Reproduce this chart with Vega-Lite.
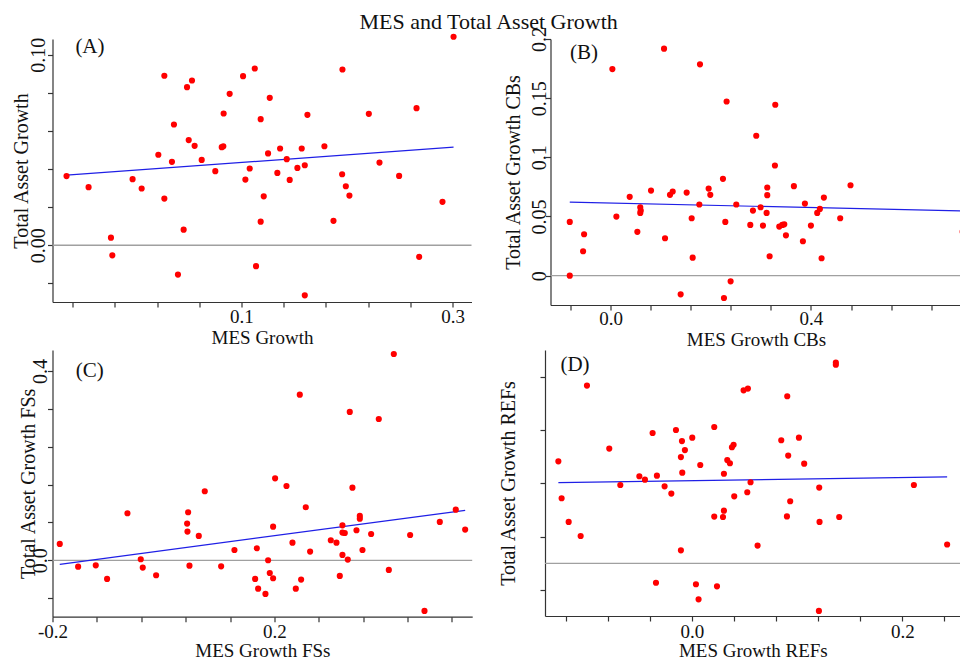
{
  "$schema": "https://vega.github.io/schema/vega-lite/v6.json",
  "padding": {"left": 10.5, "top": 11, "right": 0, "bottom": 0},
  "title": {"text": "MES and Total Asset Growth", "anchor": "middle", "baseline": "alphabetic", "offset": -24.5, "fontSize": 22, "font": "Liberation Serif", "fontWeight": "normal", "color": "#111111"},
  "datasets": {
    "A": [{"x":-0.0658,"y":0.0363},{"x":-0.0449,"y":0.0305},{"x":-0.0237,"y":0.0040},{"x":-0.0224,"y":-0.0053},{"x":-0.0032,"y":0.0347},{"x":0.0054,"y":0.0298},{"x":0.0212,"y":0.0475},{"x":0.0269,"y":0.0890},{"x":0.0269,"y":0.0245},{"x":0.0341,"y":0.0438},{"x":0.0360,"y":0.0634},{"x":0.0398,"y":-0.0154},{"x":0.0452,"y":0.0082},{"x":0.0484,"y":0.0830},{"x":0.0500,"y":0.0552},{"x":0.0531,"y":0.0865},{"x":0.0556,"y":0.0522},{"x":0.0623,"y":0.0448},{"x":0.0752,"y":0.0389},{"x":0.0813,"y":0.0515},{"x":0.0828,"y":0.0520},{"x":0.0831,"y":0.0692},{"x":0.0888,"y":0.0795},{"x":0.1015,"y":0.0888},{"x":0.1037,"y":0.0345},{"x":0.1078,"y":0.0403},{"x":0.1126,"y":0.0928},{"x":0.1138,"y":-0.0110},{"x":0.1182,"y":0.0662},{"x":0.1182,"y":0.0124},{"x":0.1211,"y":0.0257},{"x":0.1252,"y":0.0482},{"x":0.1268,"y":0.0774},{"x":0.1340,"y":0.0380},{"x":0.1366,"y":0.0508},{"x":0.1429,"y":0.0452},{"x":0.1457,"y":0.0343},{"x":0.1530,"y":0.0406},{"x":0.1571,"y":0.0508},{"x":0.1600,"y":0.0420},{"x":0.1600,"y":-0.0263},{"x":0.1625,"y":0.0685},{"x":0.1786,"y":0.0520},{"x":0.1872,"y":0.0128},{"x":0.1954,"y":0.0373},{"x":0.1957,"y":0.0923},{"x":0.1989,"y":0.0310},{"x":0.2023,"y":0.0261},{"x":0.2207,"y":0.0690},{"x":0.2308,"y":0.0434},{"x":0.2494,"y":0.0364},{"x":0.2659,"y":0.0720},{"x":0.2684,"y":-0.0061},{"x":0.2905,"y":0.0228},{"x":0.3010,"y":0.1095}],
    "B": [{"x":-0.0818,"y":0.0454},{"x":-0.0818,"y":0.0},{"x":-0.0552,"y":0.0206},{"x":-0.0532,"y":0.0350},{"x":0.0033,"y":0.1746},{"x":0.0113,"y":0.0499},{"x":0.0379,"y":0.0666},{"x":0.0532,"y":0.0370},{"x":0.059,"y":0.0578},{"x":0.060,"y":0.0550},{"x":0.059,"y":0.0530},{"x":0.0805,"y":0.0719},{"x":0.1065,"y":0.1918},{"x":0.1085,"y":0.0316},{"x":0.1184,"y":0.0683},{"x":0.1238,"y":0.0711},{"x":0.1397,"y":-0.0158},{"x":0.1517,"y":0.0702},{"x":0.1617,"y":0.0485},{"x":0.1637,"y":0.0152},{"x":0.1770,"y":0.0601},{"x":0.1783,"y":0.1786},{"x":0.1956,"y":0.0736},{"x":0.1989,"y":0.0683},{"x":0.2242,"y":0.0818},{"x":0.2262,"y":-0.0189},{"x":0.2289,"y":0.0454},{"x":0.2315,"y":0.1472},{"x":0.2395,"y":-0.0048},{"x":0.2508,"y":0.0601},{"x":0.2788,"y":0.0429},{"x":0.2841,"y":0.0550},{"x":0.2907,"y":0.1182},{"x":0.2994,"y":0.0578},{"x":0.3041,"y":0.0423},{"x":0.3114,"y":0.0530},{"x":0.3127,"y":0.0745},{"x":0.3127,"y":0.0680},{"x":0.3174,"y":0.0164},{"x":0.3280,"y":0.0931},{"x":0.3287,"y":0.1444},{"x":0.3367,"y":0.0415},{"x":0.3427,"y":0.0429},{"x":0.3467,"y":0.0434},{"x":0.3500,"y":0.0341},{"x":0.3659,"y":0.0756},{"x":0.3839,"y":0.0291},{"x":0.3879,"y":0.0609},{"x":0.3999,"y":0.0423},{"x":0.4125,"y":0.0530},{"x":0.4178,"y":0.0564},{"x":0.4212,"y":0.0147},{"x":0.4258,"y":0.0660},{"x":0.4584,"y":0.0485},{"x":0.4790,"y":0.0764},{"x":0.703,"y":0.0372}],
    "C": [{"x":-0.1869,"y":0.0345},{"x":-0.1538,"y":-0.0134},{"x":-0.1220,"y":-0.0106},{"x":-0.1016,"y":-0.0394},{"x":-0.0649,"y":0.0993},{"x":-0.0409,"y":0.0021},{"x":-0.0373,"y":-0.0155},{"x":-0.0132,"y":-0.0317},{"x":0.0427,"y":0.0775},{"x":0.0433,"y":0.0606},{"x":0.0445,"y":0.1014},{"x":0.0469,"y":-0.0113},{"x":0.0637,"y":0.0514},{"x":0.0745,"y":0.1458},{"x":0.1040,"y":-0.0127},{"x":0.1280,"y":0.0218},{"x":0.1653,"y":-0.0394},{"x":0.1683,"y":0.0254},{"x":0.1707,"y":-0.0599},{"x":0.1839,"y":-0.0711},{"x":0.1887,"y":0.0},{"x":0.1917,"y":-0.0268},{"x":0.1977,"y":0.0711},{"x":0.1977,"y":-0.0380},{"x":0.2013,"y":0.1732},{"x":0.2218,"y":0.1570},{"x":0.2326,"y":0.0373},{"x":0.2386,"y":-0.0599},{"x":0.2458,"y":0.3500},{"x":0.2482,"y":-0.0408},{"x":0.2566,"y":0.1120},{"x":0.2644,"y":0.0183},{"x":0.3017,"y":0.0423},{"x":0.3119,"y":0.0373},{"x":0.3179,"y":-0.0331},{"x":0.3227,"y":0.0739},{"x":0.3227,"y":0.0585},{"x":0.3227,"y":0.0113},{"x":0.3269,"y":0.0577},{"x":0.3323,"y":0.0014},{"x":0.3359,"y":0.3134},{"x":0.3407,"y":0.1535},{"x":0.3480,"y":0.0634},{"x":0.3540,"y":0.0937},{"x":0.3540,"y":0.0880},{"x":0.3588,"y":0.0218},{"x":0.3744,"y":0.0556},{"x":0.3882,"y":0.2986},{"x":0.4063,"y":-0.0204},{"x":0.4153,"y":0.4359},{"x":0.4447,"y":0.0535},{"x":0.4706,"y":-0.1070},{"x":0.4982,"y":0.0810},{"x":0.5270,"y":0.1070},{"x":0.5439,"y":0.0648}],
    "D": [{"x":-0.1270,"y":0.0478},{"x":-0.1239,"y":0.0305},{"x":-0.1172,"y":0.0194},{"x":-0.1058,"y":0.0128},{"x":-0.0998,"y":0.0833},{"x":-0.0786,"y":0.0538},{"x":-0.0681,"y":0.0367},{"x":-0.0500,"y":0.0408},{"x":-0.0447,"y":0.0392},{"x":-0.0374,"y":0.0611},{"x":-0.0342,"y":-0.0091},{"x":-0.0333,"y":0.0411},{"x":-0.0260,"y":0.0361},{"x":-0.0196,"y":0.0327},{"x":-0.0152,"y":0.0625},{"x":-0.0105,"y":0.0498},{"x":-0.0105,"y":0.0061},{"x":-0.0095,"y":0.0573},{"x":-0.0092,"y":0.0425},{"x":-0.0067,"y":0.0531},{"x":0.0003,"y":0.0589},{"x":0.0038,"y":-0.0098},{"x":0.0063,"y":-0.0169},{"x":0.0079,"y":0.0461},{"x":0.0212,"y":0.0639},{"x":0.0212,"y":0.0219},{"x":0.0238,"y":-0.0108},{"x":0.0295,"y":0.0217},{"x":0.0304,"y":0.0247},{"x":0.0304,"y":0.0420},{"x":0.0336,"y":0.0484},{"x":0.0361,"y":0.0469},{"x":0.0380,"y":0.0544},{"x":0.0396,"y":0.0556},{"x":0.0402,"y":0.0314},{"x":0.0491,"y":0.0811},{"x":0.0532,"y":0.0819},{"x":0.0526,"y":0.0333},{"x":0.0557,"y":0.0380},{"x":0.0624,"y":0.0083},{"x":0.0849,"y":0.0577},{"x":0.0903,"y":0.0220},{"x":0.0906,"y":0.0783},{"x":0.0915,"y":0.0505},{"x":0.0934,"y":0.0291},{"x":0.1017,"y":0.0589},{"x":0.1067,"y":0.0467},{"x":0.1210,"y":0.0355},{"x":0.1213,"y":0.0194},{"x":0.1207,"y":-0.0223},{"x":0.1368,"y":0.0941},{"x":0.1368,"y":0.0931},{"x":0.1400,"y":0.0217},{"x":0.2110,"y":0.0367},{"x":0.2426,"y":0.0088}],
    "fitA": [{"x":-0.0658,"y":0.0368},{"x":0.3010,"y":0.0515}],
    "fitB": [{"x":-0.0818,"y":0.0621},{"x":0.703,"y":0.0547}],
    "fitC": [{"x":-0.1869,"y":-0.0085},{"x":0.5439,"y":0.1056}],
    "fitD": [{"x":-0.1270,"y":0.0378},{"x":0.2426,"y":0.0405}]
  },
  "spacing": -20,
  "vconcat": [
    {
      "bounds": "flush",
      "spacing": 79,
      "hconcat": [
        {
          "width": 419, "height": 263,
          "layer": [
            {"data": {"values": [{"y": 0}]}, "mark": {"type": "rule", "color": "#a0a0a0", "strokeWidth": 1.3},
             "encoding": {"y": {"field": "y", "type": "quantitative", "scale": {"domain": [-0.0298, 0.1083], "nice": false, "zero": false}}}},
            {"data": {"name": "fitA"}, "mark": {"type": "line", "color": "#1f1fe6", "strokeWidth": 1.2},
             "encoding": {
               "x": {"field": "x", "type": "quantitative", "scale": {"domain": [-0.0791, 0.318], "nice": false, "zero": false}},
               "y": {"field": "y", "type": "quantitative", "scale": {"domain": [-0.0298, 0.1083], "nice": false, "zero": false}}}},
            {"data": {"name": "A"}, "mark": {"type": "circle", "color": "#ff0000", "opacity": 1, "size": 38},
             "encoding": {
               "x": {"field": "x", "type": "quantitative", "scale": {"domain": [-0.0791, 0.318], "nice": false, "zero": false},
                     "axis": {"orient": "bottom", "values": [-0.06,-0.04,-0.02,0,0.02,0.04,0.06,0.08,0.1,0.12,0.14,0.16,0.18,0.2,0.22,0.24,0.26,0.28,0.3],
                              "labelExpr": "abs(datum.value * 10 - round(datum.value * 10)) < 0.000001 ? format(datum.value, '.1f') : ''",
                              "tickSize": 5, "labelPadding": 15.6, "labelBaseline": "alphabetic", "labelAngle": 0, "title": "MES Growth", "titleY": 41.3, "titleBaseline": "alphabetic"}},
               "y": {"field": "y", "type": "quantitative", "scale": {"domain": [-0.0298, 0.1083], "nice": false, "zero": false},
                     "axis": {"orient": "left", "values": [-0.02,-0.01,0,0.01,0.02,0.03,0.04,0.05,0.06,0.07,0.08,0.09,0.1],
                              "labelExpr": "abs(datum.value * 20 - round(datum.value * 20)) < 0.000001 ? format(datum.value, '.2f') : ''",
                              "tickSize": 5, "labelPadding": 2.6, "labelAngle": 270, "labelAlign": "center", "labelBaseline": "alphabetic", "labelFontSize": 20, "title": "Total Asset Growth", "titleAngle": 270, "titleX": -25, "titleBaseline": "alphabetic", "titleFontSize": 20}}}},
            {"data": {"values": [{"x": -0.0436, "y": 0.1043, "t": "(A)"}]}, "mark": {"type": "text", "fontSize": 21, "align": "center", "baseline": "middle", "font": "Liberation Serif", "color": "#111111"},
             "encoding": {
               "x": {"field": "x", "type": "quantitative", "scale": {"domain": [-0.0791, 0.318], "nice": false, "zero": false}},
               "y": {"field": "y", "type": "quantitative", "scale": {"domain": [-0.0298, 0.1083], "nice": false, "zero": false}},
               "text": {"field": "t"}}}
          ]
        },
        {
          "width": 411, "height": 266,
          "layer": [
            {"data": {"values": [{"y": 0}]}, "mark": {"type": "rule", "color": "#a0a0a0", "strokeWidth": 1.3},
             "encoding": {"y": {"field": "y", "type": "quantitative", "scale": {"domain": [-0.0248, 0.2], "nice": false, "zero": false}}}},
            {"data": {"name": "fitB"}, "mark": {"type": "line", "color": "#1f1fe6", "strokeWidth": 1.2},
             "encoding": {
               "x": {"field": "x", "type": "quantitative", "scale": {"domain": [-0.1203, 0.7007], "nice": false, "zero": false}},
               "y": {"field": "y", "type": "quantitative", "scale": {"domain": [-0.0248, 0.2], "nice": false, "zero": false}}}},
            {"data": {"name": "B"}, "mark": {"type": "circle", "color": "#ff0000", "opacity": 1, "size": 38},
             "encoding": {
               "x": {"field": "x", "type": "quantitative", "scale": {"domain": [-0.1203, 0.7007], "nice": false, "zero": false},
                     "axis": {"orient": "bottom", "values": [-0.08,-0.04,0,0.04,0.08,0.12,0.16,0.2,0.24,0.28,0.32,0.36,0.4,0.44,0.48,0.52,0.56,0.6,0.64,0.68],
                              "labelExpr": "abs(datum.value * 5 - round(datum.value * 5)) < 0.000001 ? format(datum.value, '.1f') : ''",
                              "tickSize": 5, "labelPadding": 14, "labelBaseline": "alphabetic", "labelAngle": 0, "title": "MES Growth CBs", "titleY": 40.7, "titleBaseline": "alphabetic"}},
               "y": {"field": "y", "type": "quantitative", "scale": {"domain": [-0.0248, 0.2], "nice": false, "zero": false},
                     "axis": {"orient": "left", "values": [0,0.025,0.05,0.075,0.1,0.125,0.15,0.175,0.2],
                              "labelExpr": "abs(datum.value * 20 - round(datum.value * 20)) < 0.000001 ? '' + (round(datum.value * 20) / 20) : ''",
                              "tickSize": 5, "labelPadding": 0, "labelAngle": 270, "labelAlign": "center", "labelBaseline": "alphabetic", "labelFontSize": 20, "title": "Total Asset Growth CBs", "titleAngle": 270, "titleX": -30.7, "titleBaseline": "alphabetic", "titleFontSize": 20}}}},
            {"data": {"values": [{"x": -0.0535, "y": 0.188, "t": "(B)"}]}, "mark": {"type": "text", "fontSize": 21, "align": "center", "baseline": "middle", "font": "Liberation Serif", "color": "#111111"},
             "encoding": {
               "x": {"field": "x", "type": "quantitative", "scale": {"domain": [-0.1203, 0.7007], "nice": false, "zero": false}},
               "y": {"field": "y", "type": "quantitative", "scale": {"domain": [-0.0248, 0.2], "nice": false, "zero": false}},
               "text": {"field": "t"}}}
          ]
        }
      ]
    },
    {
      "bounds": "flush",
      "spacing": 72.5,
      "hconcat": [
        {
          "width": 419.7, "height": 266.7,
          "layer": [
            {"data": {"values": [{"y": 0}]}, "mark": {"type": "rule", "color": "#a0a0a0", "strokeWidth": 1.3},
             "encoding": {"y": {"field": "y", "type": "quantitative", "scale": {"domain": [-0.1192, 0.4443], "nice": false, "zero": false}}}},
            {"data": {"name": "fitC"}, "mark": {"type": "line", "color": "#1f1fe6", "strokeWidth": 1.2},
             "encoding": {
               "x": {"field": "x", "type": "quantitative", "scale": {"domain": [-0.2, 0.5566], "nice": false, "zero": false}},
               "y": {"field": "y", "type": "quantitative", "scale": {"domain": [-0.1192, 0.4443], "nice": false, "zero": false}}}},
            {"data": {"name": "C"}, "mark": {"type": "circle", "color": "#ff0000", "opacity": 1, "size": 38},
             "encoding": {
               "x": {"field": "x", "type": "quantitative", "scale": {"domain": [-0.2, 0.5566], "nice": false, "zero": false},
                     "axis": {"orient": "bottom", "values": [-0.2,-0.18,-0.16,-0.14,-0.12,-0.1,-0.08,-0.06,-0.04,-0.02,0,0.02,0.04,0.06,0.08,0.1,0.12,0.14,0.16,0.18,0.2,0.22,0.24,0.26,0.28,0.3,0.32,0.34,0.36,0.38,0.4,0.42,0.44,0.46,0.48,0.5,0.52,0.54],
                              "labelExpr": "abs(datum.value * 10 - round(datum.value * 10)) < 0.000001 ? (round(datum.value * 10) < 0 ? '-' + (abs(round(datum.value * 10)) / 10) : '' + (round(datum.value * 10) / 10)) : ''",
                              "tickSize": 5, "labelPadding": 15.3, "labelBaseline": "alphabetic", "labelAngle": 0, "title": "MES Growth FSs", "titleY": 39.3, "titleBaseline": "alphabetic"}},
               "y": {"field": "y", "type": "quantitative", "scale": {"domain": [-0.1192, 0.4443], "nice": false, "zero": false},
                     "axis": {"orient": "left", "values": [-0.08,-0.04,0,0.04,0.08,0.12,0.16,0.2,0.24,0.28,0.32,0.36,0.4],
                              "labelExpr": "abs(datum.value * 5 - round(datum.value * 5)) < 0.000001 ? format(datum.value, '.1f') : ''",
                              "tickSize": 5, "labelPadding": 0.7, "labelAngle": 270, "labelAlign": "center", "labelBaseline": "alphabetic", "labelFontSize": 20, "title": "Total Asset Growth FSs", "titleAngle": 270, "titleX": -18, "titleBaseline": "alphabetic", "titleFontSize": 20}}}},
            {"data": {"values": [{"x": -0.1329, "y": 0.4, "t": "(C)"}]}, "mark": {"type": "text", "fontSize": 21, "align": "center", "baseline": "middle", "font": "Liberation Serif", "color": "#111111"},
             "encoding": {
               "x": {"field": "x", "type": "quantitative", "scale": {"domain": [-0.2, 0.5566], "nice": false, "zero": false}},
               "y": {"field": "y", "type": "quantitative", "scale": {"domain": [-0.1192, 0.4443], "nice": false, "zero": false}},
               "text": {"field": "t"}}}
          ]
        },
        {
          "width": 415.6, "height": 266,
          "layer": [
            {"data": {"values": [{"y": 0}]}, "mark": {"type": "rule", "color": "#a0a0a0", "strokeWidth": 1.3},
             "encoding": {"y": {"field": "y", "type": "quantitative", "scale": {"domain": [-0.0247, 0.1], "nice": false, "zero": false}}}},
            {"data": {"name": "fitD"}, "mark": {"type": "line", "color": "#1f1fe6", "strokeWidth": 1.2},
             "encoding": {
               "x": {"field": "x", "type": "quantitative", "scale": {"domain": [-0.1397, 0.2554], "nice": false, "zero": false}},
               "y": {"field": "y", "type": "quantitative", "scale": {"domain": [-0.0247, 0.1], "nice": false, "zero": false}}}},
            {"data": {"name": "D"}, "mark": {"type": "circle", "color": "#ff0000", "opacity": 1, "size": 38},
             "encoding": {
               "x": {"field": "x", "type": "quantitative", "scale": {"domain": [-0.1397, 0.2554], "nice": false, "zero": false},
                     "axis": {"orient": "bottom", "values": [-0.12,-0.1,-0.08,-0.06,-0.04,-0.02,0,0.02,0.04,0.06,0.08,0.1,0.12,0.14,0.16,0.18,0.2,0.22,0.24],
                              "labelExpr": "abs(datum.value * 10 - round(datum.value * 10)) < 0.000001 ? (datum.value < 0 ? '-' + format(-datum.value, '.1f') : format(abs(datum.value), '.1f')) : ''",
                              "tickSize": 5, "labelPadding": 16, "labelBaseline": "alphabetic", "labelAngle": 0, "title": "MES Growth REFs", "titleY": 40, "titleBaseline": "alphabetic"}},
               "y": {"field": "y", "type": "quantitative", "scale": {"domain": [-0.0247, 0.1], "nice": false, "zero": false},
                     "axis": {"orient": "left", "values": [-0.0125,0,0.0125,0.025,0.0375,0.05,0.0625,0.075,0.0875,0.1],
                              "labelExpr": "abs(datum.value * 40 - round(datum.value * 40)) < 0.000001 ? '' + (round(datum.value * 40) / 40) : ''",
                              "tickSize": 5, "labelPadding": -0.7, "labelAngle": 270, "labelAlign": "center", "labelBaseline": "alphabetic", "labelFontSize": 20, "title": "Total Asset Growth REFs", "titleAngle": 270, "titleX": -31, "titleBaseline": "alphabetic", "titleFontSize": 20}}}},
            {"data": {"values": [{"x": -0.1112, "y": 0.0929, "t": "(D)"}]}, "mark": {"type": "text", "fontSize": 21, "align": "center", "baseline": "middle", "font": "Liberation Serif", "color": "#111111"},
             "encoding": {
               "x": {"field": "x", "type": "quantitative", "scale": {"domain": [-0.1397, 0.2554], "nice": false, "zero": false}},
               "y": {"field": "y", "type": "quantitative", "scale": {"domain": [-0.0247, 0.1], "nice": false, "zero": false}},
               "text": {"field": "t"}}}
          ]
        }
      ]
    }
  ],
  "config": {
    "font": "Liberation Serif",
    "view": {"stroke": null},
    "axis": {"grid": false, "domainColor": "#333333", "domainWidth": 1.2, "tickColor": "#333333", "tickWidth": 1.2, "labelFont": "Liberation Serif", "titleFont": "Liberation Serif", "labelColor": "#111111", "titleColor": "#111111", "labelFontSize": 19, "titleFontSize": 19, "titleFontWeight": "normal", "labelOverlap": false, "labelFlush": false, "labelBound": false},
    "text": {"font": "Liberation Serif"}
  }
}
